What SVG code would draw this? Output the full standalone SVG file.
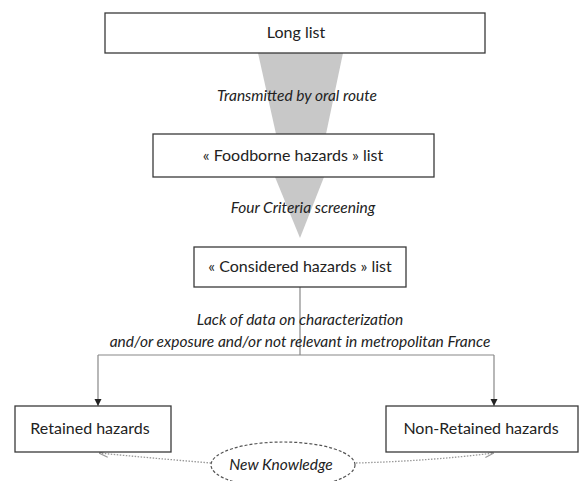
<svg xmlns="http://www.w3.org/2000/svg" width="588" height="481" viewBox="0 0 588 481">
<style>
.box{fill:#fff;stroke:#3a3a3a;stroke-width:1.3}
.t{font-family:Lato,"Open Sans",sans-serif;font-size:16px;fill:#222;text-anchor:middle}
.i{font-style:italic;font-size:15.5px}
.ln{fill:none;stroke:#888;stroke-width:1.2}
.dot{fill:none;stroke:#999;stroke-width:1.3;stroke-dasharray:1.5 1.5}
</style>
<defs>
<marker id="ah" viewBox="0 0 8 8" refX="8" refY="4" markerWidth="6" markerHeight="6" orient="auto"><path d="M0,0 L8,4 L0,8 z" fill="#222"/></marker>
<marker id="ah2" viewBox="0 0 8 8" refX="8" refY="4" markerWidth="7" markerHeight="7" orient="auto"><path d="M0,1 L8,4 L0,7" fill="none" stroke="#999" stroke-width="1"/></marker>
</defs>
<g id="funnels">
<polygon points="258,53 343,53 326,134 276,134" fill="#c8c8c8"/>
<polygon points="275,177 324,177 300,238" fill="#c8c8c8"/>
</g>
<g id="connectors">
<path class="ln" d="M300,287 V355"/>
<path class="ln" d="M98,355 H494"/>
<path class="ln" d="M98,355 V406" marker-end="url(#ah)"/>
<path class="ln" d="M494,355 V406" marker-end="url(#ah)"/>
<path class="dot" d="M211,463 Q150,458 99,453" marker-end="url(#ah2)"/>
<path class="dot" d="M356,463 Q430,461 494,453" marker-end="url(#ah2)"/>
</g>
<g id="long-list"><rect class="box" x="105" y="13" width="380" height="40"/><text class="t" x="296" y="38">Long list</text></g>
<text class="t i" x="297" y="101">Transmitted by oral route</text>
<g id="foodborne"><rect class="box" x="153" y="134" width="281" height="43"/><text class="t" x="293" y="161">« Foodborne hazards » list</text></g>
<text class="t i" x="303" y="213">Four Criteria screening</text>
<g id="considered"><rect class="box" x="194" y="247" width="212" height="40"/><text class="t" x="300" y="272">« Considered hazards » list</text></g>
<text class="t i" x="300" y="325">Lack of data on characterization</text>
<text class="t i" x="300" y="347">and/or exposure and/or not relevant in metropolitan France</text>
<g id="retained"><rect class="box" x="15" y="406" width="156" height="46"/><text class="t" x="90" y="434">Retained hazards</text></g>
<g id="non-retained"><rect class="box" x="386" y="406" width="192" height="46"/><text class="t" x="481" y="434">Non-Retained hazards</text></g>
<g id="new-knowledge"><ellipse cx="283" cy="465" rx="72" ry="23" fill="#fff" stroke="#555" stroke-width="1.2" stroke-dasharray="3 2"/><text class="t i" x="281" y="470">New Knowledge</text></g>
</svg>
